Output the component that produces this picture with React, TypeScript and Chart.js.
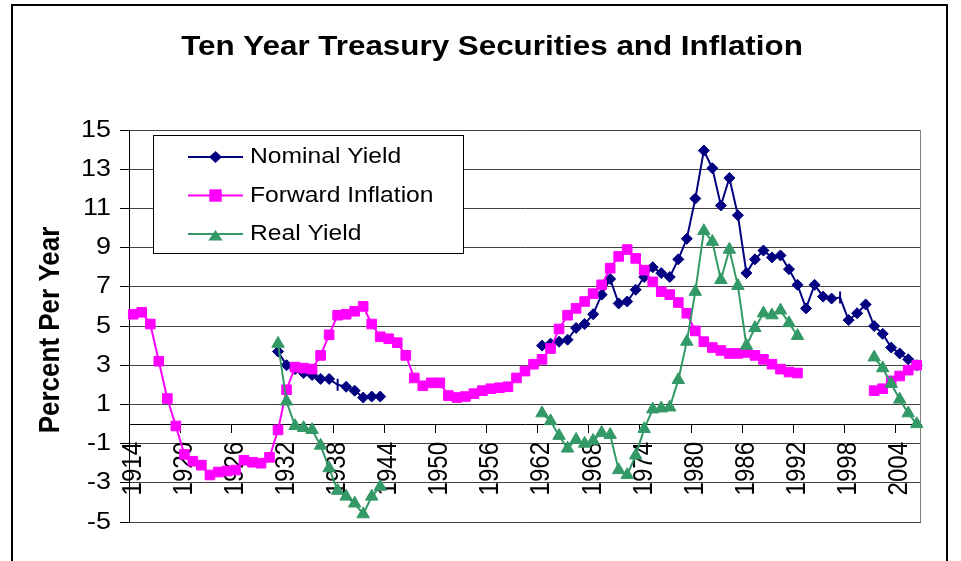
import React, { useEffect, useRef } from 'react';
import { Chart, registerables } from 'chart.js';

Chart.register(...registerables);

const chartTitle = 'Ten Year Treasury Securities and Inflation';
const yAxisTitle = 'Percent Per Year';
const seriesNames = ['Nominal Yield', 'Forward Inflation', 'Real Yield'];
const seriesColors = ['#000080', '#FF00FF', '#339966'];

const years = [
  '1914', '1915', '1916', '1917', '1918', '1919',
  '1920', '1921', '1922', '1923', '1924', '1925', '1926', '1927', '1928', '1929',
  '1930', '1931', '1932', '1933', '1934', '1935', '1936', '1937', '1938', '1939',
  '1940', '1941', '1942', '1943', '1944', '1945', '1946', '1947', '1948', '1949',
  '1950', '1951', '1952', '1953', '1954', '1955', '1956', '1957', '1958', '1959',
  '1960', '1961', '1962', '1963', '1964', '1965', '1966', '1967', '1968', '1969',
  '1970', '1971', '1972', '1973', '1974', '1975', '1976', '1977', '1978', '1979',
  '1980', '1981', '1982', '1983', '1984', '1985', '1986', '1987', '1988', '1989',
  '1990', '1991', '1992', '1993', '1994', '1995', '1996', '1997', '1998', '1999',
  '2000', '2001', '2002', '2003', '2004', '2005', '2006',
];
const labelEvery = 6;

const yMin = -5;
const yMax = 15;
const yStep = 2;

const nominalYield = [
  null, null, null, null, null, null,
  null, null, null, null, null, null, null, null, null, null,
  null, 3.7, 3.0, 2.8, 2.6, 2.5, 2.3, 2.3, 2.0, 1.9,
  1.7, 1.35, 1.4, 1.4, null, null, null, null, null, null,
  null, null, null, null, null, null, null, null, null, null,
  null, null, 4.0, 4.1, 4.2, 4.3, 4.9, 5.1, 5.6, 6.6,
  7.4, 6.15, 6.25, 6.85, 7.5, 8.0, 7.7, 7.5, 8.4, 9.45,
  11.5, 13.95, 13.05, 11.15, 12.55, 10.65, 7.7, 8.4, 8.85, 8.5,
  8.6, 7.9, 7.1, 5.9, 7.1, 6.5, 6.4, 6.45, 5.3, 5.65,
  6.1, 5.0, 4.6, 3.9, 3.6, 3.3, 3.0,
];

const forwardInflation = [
  5.6, 5.7, 5.1, 3.2, 1.3, -0.1,
  -1.55, -1.9, -2.1, -2.6, -2.45, -2.4, -2.35, -1.85, -1.95, -2.0,
  -1.7, -0.3, 1.75, 2.9, 2.85, 2.8, 3.5, 4.55, 5.55, 5.6,
  5.75, 6.0, 5.1, 4.45, 4.35, 4.15, 3.5, 2.35, 1.95, 2.1,
  2.1, 1.45, 1.35, 1.4, 1.55, 1.7, 1.8, 1.85, 1.9, 2.35,
  2.7, 3.05, 3.3, 3.85, 4.85, 5.55, 5.9, 6.25, 6.65, 7.1,
  7.95, 8.55, 8.9, 8.45, 7.85, 7.25, 6.75, 6.6, 6.2, 5.65,
  4.75, 4.2, 3.9, 3.75, 3.6, 3.6, 3.65, 3.5, 3.3, 3.05,
  2.8, 2.65, 2.6, null, null, null, null, null, null, null,
  null, 1.7, 1.8, 2.2, 2.45, 2.75, 3.0,
];

const realYield = [
  null, null, null, null, null, null,
  null, null, null, null, null, null, null, null, null, null,
  null, 4.1, 1.15, -0.1, -0.2, -0.3, -1.1, -2.25, -3.4, -3.7,
  -4.05, -4.6, -3.7, -3.2, null, null, null, null, null, null,
  null, null, null, null, null, null, null, null, null, null,
  null, null, 0.55, 0.15, -0.6, -1.25, -0.8, -1.0, -0.85, -0.45,
  -0.55, -2.35, -2.6, -1.6, -0.25, 0.75, 0.8, 0.85, 2.25, 4.2,
  6.75, 9.85, 9.3, 7.35, 8.9, 7.05, 4.0, 4.9, 5.65, 5.55,
  5.8, 5.15, 4.5, null, null, null, null, null, null, null,
  null, 3.4, 2.85, 2.05, 1.25, 0.55, 0.0,
];

// years whose nominal marker is drawn as a short vertical bar in the original
const barMarkerYears = ['1938', '1997'];

const FONT = '"Liberation Sans", Arial, Helvetica, sans-serif';
const TEXT_SX = 1.12;

function stretchText(ctx: any) {
  if (ctx.__stretched) return;
  ctx.__stretched = true;
  const orig = ctx.fillText.bind(ctx);
  ctx.fillText = (text: string, x: number, y: number, maxWidth?: number) => {
    const m = ctx.getTransform();
    const p = m.transformPoint(new DOMPoint(x, y));
    ctx.save();
    ctx.setTransform(
      new DOMMatrix().translate(p.x, p.y).scale(TEXT_SX, 1).translate(-p.x, -p.y).multiply(m)
    );
    if (maxWidth === undefined) orig(text, x, y);
    else orig(text, x, y, maxWidth);
    ctx.restore();
  };
}

const decorPlugin = {
  id: 'decor',
  beforeDraw(chart: any) {
    const ctx = chart.ctx;
    ctx.save();
    ctx.fillStyle = '#fff';
    ctx.fillRect(0, 0, chart.width, chart.height);
    ctx.strokeStyle = '#000';
    ctx.lineWidth = 2;
    ctx.strokeRect(12, 5, 935, 640);
    ctx.fillStyle = '#000';
    ctx.textAlign = 'center';
    ctx.textBaseline = 'middle';
    ctx.font = `bold 28px ${FONT}`;
    ctx.fillText(chartTitle, 492, 47);
    ctx.translate(51, 330);
    ctx.rotate(-Math.PI / 2);
    ctx.font = `bold 26px ${FONT}`;
    ctx.fillText(yAxisTitle, 0, 0);
    ctx.restore();
  },
  beforeDatasetsDraw(chart: any) {
    const ctx = chart.ctx;
    const a = chart.chartArea;
    ctx.save();
    ctx.strokeStyle = '#808080';
    ctx.lineWidth = 1;
    ctx.beginPath();
    ctx.moveTo(Math.round(a.right) - 0.5, a.top);
    ctx.lineTo(Math.round(a.right) - 0.5, a.bottom);
    ctx.stroke();
    ctx.restore();
  },
  afterDatasetsDraw(chart: any) {
    const ctx = chart.ctx;
    ctx.save();
    const bx = 153.5, by = 135.5, bw = 310, bh = 118;
    ctx.fillStyle = '#fff';
    ctx.fillRect(bx, by, bw, bh);
    ctx.strokeStyle = '#000';
    ctx.lineWidth = 1;
    ctx.strokeRect(bx, by, bw, bh);
    const rows = [157, 195.5, 234];
    const mx = 215.5;
    seriesNames.forEach((name, i) => {
      const ry = rows[i];
      const c = seriesColors[i];
      ctx.strokeStyle = c;
      ctx.fillStyle = c;
      ctx.lineWidth = 2;
      ctx.beginPath();
      ctx.moveTo(188, ry);
      ctx.lineTo(243, ry);
      ctx.stroke();
      ctx.beginPath();
      if (i === 0) {
        ctx.moveTo(mx - 6.5, ry);
        ctx.lineTo(mx, ry - 6);
        ctx.lineTo(mx + 6.5, ry);
        ctx.lineTo(mx, ry + 6);
      } else if (i === 1) {
        ctx.rect(mx - 6.2, ry - 6.2, 12.4, 12.4);
      } else {
        ctx.moveTo(mx, ry - 4);
        ctx.lineTo(mx + 7.2, ry + 6.5);
        ctx.lineTo(mx - 7.2, ry + 6.5);
      }
      ctx.closePath();
      ctx.fill();
      ctx.fillStyle = '#000';
      ctx.font = `22px ${FONT}`;
      ctx.textAlign = 'left';
      ctx.textBaseline = 'middle';
      ctx.fillText(name, 250, ry);
    });
    ctx.restore();
  },
};

export default function App() {
  const ref = useRef<HTMLCanvasElement>(null);

  useEffect(() => {
    const canvas = ref.current as HTMLCanvasElement;
    const ctx = canvas.getContext('2d') as CanvasRenderingContext2D;
    stretchText(ctx);

    const isBar = (i: number) => barMarkerYears.includes(years[i]);

    const chart = new Chart(ctx, {
      type: 'line',
      data: {
        labels: years,
        datasets: [
          {
            label: seriesNames[0],
            data: nominalYield,
            borderColor: seriesColors[0],
            backgroundColor: seriesColors[0],
            borderWidth: 2,
            pointStyle: years.map((_, i) => (isBar(i) ? 'line' : 'rectRot')) as any,
            pointRotation: years.map((_, i) => (isBar(i) ? 90 : 0)),
            pointRadius: years.map((_, i) => (isBar(i) ? 6 : 5.5)),
            pointBorderWidth: years.map((_, i) => (isBar(i) ? 2 : 1)),
            spanGaps: false,
            tension: 0,
            order: 3,
          },
          {
            label: seriesNames[1],
            data: forwardInflation,
            borderColor: seriesColors[1],
            backgroundColor: seriesColors[1],
            borderWidth: 2,
            pointStyle: 'rect',
            pointRadius: 6.8,
            pointBorderWidth: 1,
            spanGaps: false,
            tension: 0,
            order: 2,
          },
          {
            label: seriesNames[2],
            data: realYield,
            borderColor: seriesColors[2],
            backgroundColor: seriesColors[2],
            borderWidth: 2,
            pointStyle: 'triangle',
            pointRadius: 7.2,
            pointBorderWidth: 1,
            spanGaps: false,
            tension: 0,
            order: 1,
          },
        ],
      },
      options: {
        animation: false,
        responsive: false,
        maintainAspectRatio: false,
        devicePixelRatio: 1,
        events: [],
        layout: { padding: { left: 0, top: 130, right: 40, bottom: 39 } },
        plugins: {
          legend: { display: false },
          title: { display: false },
          tooltip: { enabled: false },
        },
        scales: {
          x: {
            type: 'category',
            position: { y: 0 } as any,
            offset: true,
            afterFit: (s: any) => {
              s.height = 0;
            },
            grid: {
              display: true,
              drawOnChartArea: false,
              drawTicks: true,
              tickLength: 8,
              offset: true,
              lineWidth: 1,
              color: (c: any) =>
                c.index !== undefined && c.index % labelEvery === 0 ? '#000' : 'rgba(0,0,0,0)',
            },
            border: { display: true, color: '#000', width: 1 },
            ticks: {
              autoSkip: false,
              minRotation: 90,
              maxRotation: 90,
              padding: 10,
              color: '#000',
              font: { family: FONT, size: 24 },
              callback: function (this: any, v: any, i: number) {
                return i % labelEvery === 0 ? this.getLabelForValue(v) : '';
              },
            },
          },
          y: {
            type: 'linear',
            min: yMin,
            max: yMax,
            afterFit: (s: any) => {
              s.width = 129;
            },
            ticks: {
              stepSize: yStep,
              padding: 9,
              color: '#000',
              font: { family: FONT, size: 24 },
            },
            grid: {
              color: '#404040',
              tickColor: '#000',
              tickLength: 9,
              drawTicks: true,
              lineWidth: 1,
            },
            border: { display: true, color: '#000', width: 1 },
          },
        },
      },
      plugins: [decorPlugin],
    });

    return () => chart.destroy();
  }, []);

  return (
    <div style={{ position: 'absolute', left: 0, top: 0, width: 961, height: 561, background: '#fff' }}>
      <canvas ref={ref} width={961} height={561} style={{ display: 'block', width: 961, height: 561 }} />
    </div>
  );
}
